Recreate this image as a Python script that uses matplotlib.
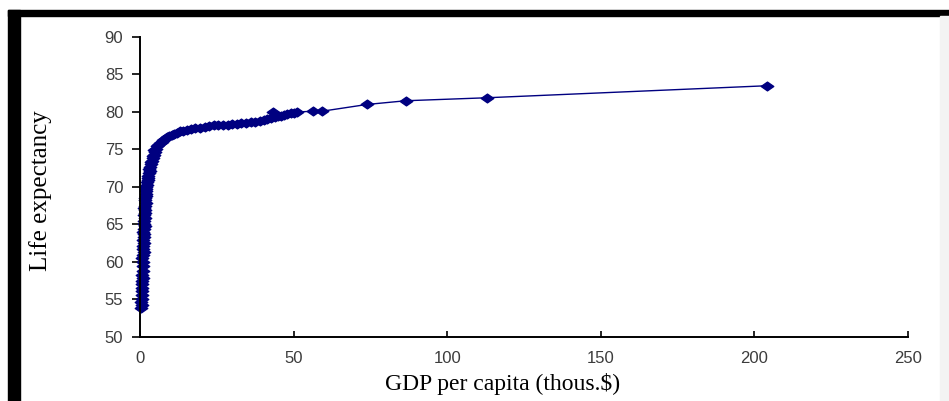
import matplotlib
matplotlib.use("Agg")
import matplotlib.pyplot as plt
from matplotlib.path import Path
from matplotlib.patches import Rectangle

# GDP per capita (thousand $) and life expectancy
gdp = [0.3, 0.5, 0.4, 0.6, 0.5, 0.7, 0.6, 0.8, 0.7, 0.9, 0.8, 1.0, 0.9, 1.1,
       0.8, 1.0, 1.2, 0.9, 1.1, 1.3, 1.0, 1.2, 1.4, 1.1, 1.3, 1.5, 1.2, 1.4,
       1.6, 1.3, 1.5, 1.7, 1.4, 1.6, 1.8, 1.5, 1.7, 1.9,
       1.8, 2.0, 1.9, 2.1, 2.3, 2.2, 2.5, 2.7, 2.6, 2.9, 3.1, 3.0, 3.4, 3.6,
       3.5, 3.9, 4.2, 4.1, 4.5, 4.8, 4.7, 5.2, 5.6, 6.0, 6.5, 7.0, 7.6, 8.2,
       8.9, 9.6, 10.4, 11.2, 12.0, 13.0, 14.0, 15.2, 16.5, 18.0, 19.5, 21.0,
       22.5, 24.0, 25.5, 27.0, 28.5, 30.0, 31.5, 33.0, 34.5, 36.0, 37.5, 39.0,
       40.5, 41.5, 42.5, 43.2, 44.0, 45.0, 46.0, 47.0, 48.0, 49.0, 50.0, 51.0,
       56.3, 59.2, 73.8, 86.5, 113.0, 204.0]
life = [53.8, 54.2, 54.6, 55.0, 55.6, 56.1, 56.5, 57.0, 57.4, 57.8, 58.3, 58.8,
        59.4, 60.0, 60.5, 60.9, 61.3, 61.7, 62.1, 62.5, 62.9, 63.3, 63.7, 64.0,
        64.4, 64.8, 65.1, 65.5, 65.8, 66.2, 66.5, 66.9, 67.2, 67.5, 67.9, 68.2,
        68.5, 68.8,
        69.1, 69.4, 69.7, 70.0, 70.3, 70.6, 70.9, 71.2, 71.5, 71.8, 72.1, 72.4,
        72.7, 73.0, 73.3, 73.5, 73.8, 74.1, 74.3, 74.6, 74.9, 75.1, 75.4, 75.6,
        75.8, 76.0, 76.2, 76.4, 76.6, 76.8, 76.9, 77.1, 77.2, 77.4, 77.5, 77.6,
        77.7, 77.8, 77.9, 78.0, 78.1, 78.2, 78.2, 78.3, 78.3, 78.4, 78.4, 78.5,
        78.5, 78.6, 78.7, 78.8, 78.9, 79.0, 79.2, 80.0, 79.3, 79.4, 79.5, 79.6,
        79.7, 79.8, 79.9, 80.0, 80.1, 80.1, 81.0, 81.5, 81.9, 83.5]

navy = "#000080"
diamond = Path([(-1, 0), (0, 0.7), (1, 0), (0, -0.7), (-1, 0)],
               [Path.MOVETO, Path.LINETO, Path.LINETO, Path.LINETO, Path.CLOSEPOLY])

fig = plt.figure(figsize=(9.49, 4.01), dpi=100)
fig.patch.set_facecolor("white")

# black frame of the screenshot
fig.patches.append(Rectangle((8 / 949, 1 - 16 / 401), 1, 6 / 401,
                             transform=fig.transFigure, color="black", zorder=0))
fig.patches.append(Rectangle((8 / 949, 0), 12 / 949, 1 - 10 / 401,
                             transform=fig.transFigure, color="black", zorder=0))
fig.patches.append(Rectangle((940 / 949, 0), 9 / 949, 1 - 16 / 401,
                             transform=fig.transFigure, color="#f3f3f3", zorder=0))

ax = fig.add_axes([140 / 949, 1 - 337 / 401, 768 / 949, 300 / 401])
ax.plot(gdp, life, color=navy, lw=1.0, marker=diamond, markersize=9,
        markerfacecolor=navy, markeredgecolor=navy, clip_on=False)

ax.set_xlim(0, 250)
ax.set_ylim(50, 90)
ax.set_xticks(range(0, 251, 50))
ax.set_yticks(range(50, 91, 5))
for s in ["top", "right"]:
    ax.spines[s].set_visible(False)
for s in ["left", "bottom"]:
    ax.spines[s].set_linewidth(1.4)
ax.tick_params(axis="y", direction="out", length=6, width=1.2, pad=6,
               labelsize=12, labelcolor="#3c3c3c")
ax.tick_params(axis="x", direction="in", length=4, width=1.2, pad=10,
               labelsize=12, labelcolor="#3c3c3c")
for lbl in ax.get_xticklabels() + ax.get_yticklabels():
    lbl.set_family("Liberation Sans")

ax.set_xlabel("GDP per capita (thous.$)", family="Liberation Serif",
              fontsize=17)
ax.xaxis.set_label_coords(0.472, -0.12)
ax.set_ylabel("Life expectancy", family="Liberation Serif", fontsize=18)
ax.yaxis.set_label_coords(-0.115, 0.488)

fig.savefig("out.png", dpi=100)
